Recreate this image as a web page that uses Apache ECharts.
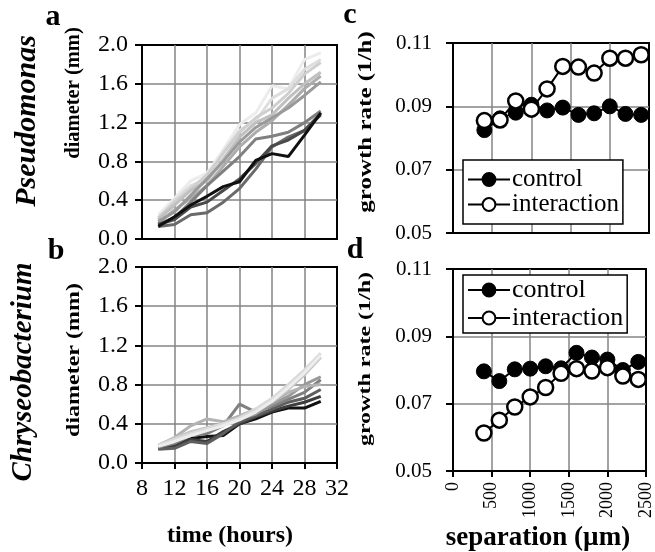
<!DOCTYPE html>
<html><head><meta charset="utf-8">
<script src="https://cdn.jsdelivr.net/npm/echarts@6/dist/echarts.min.js"></script>
<style>html,body{margin:0;padding:0;background:#fff}#c{width:655px;height:552px}</style>
</head><body><div id="c"></div>
<script>
// ---------- data ----------
const hours = [10, 12, 14, 16, 18, 20, 22, 24, 26, 28, 30];
const pseudomonasDiameter = [
  [0.25, 0.42, 0.60, 0.68, 0.92, 1.18, 1.30, 1.58, 1.55, 1.85, 1.92],
  [0.20, 0.40, 0.55, 0.62, 0.90, 1.12, 1.22, 1.45, 1.55, 1.75, 1.85],
  [0.22, 0.38, 0.52, 0.66, 0.88, 1.10, 1.25, 1.35, 1.50, 1.70, 1.82],
  [0.20, 0.35, 0.50, 0.60, 0.82, 1.05, 1.20, 1.28, 1.45, 1.60, 1.72],
  [0.16, 0.30, 0.42, 0.55, 0.75, 0.95, 1.10, 1.22, 1.38, 1.55, 1.68],
  [0.18, 0.28, 0.45, 0.62, 0.80, 1.00, 1.15, 1.25, 1.35, 1.48, 1.62],
  [0.15, 0.22, 0.38, 0.55, 0.70, 0.85, 1.03, 1.06, 1.10, 1.20, 1.32],
  [0.13, 0.15, 0.25, 0.27, 0.38, 0.52, 0.72, 0.95, 1.05, 1.12, 1.30],
  [0.15, 0.20, 0.33, 0.38, 0.50, 0.62, 0.78, 0.96, 1.02, 1.12, 1.28],
  [0.13, 0.23, 0.35, 0.44, 0.54, 0.59, 0.81, 0.88, 0.85, 1.07, 1.30]
];
const chryseobacteriumDiameter = [
  [0.15, 0.18, 0.25, 0.27, 0.28, 0.40, 0.45, 0.52, 0.56, 0.56, 0.63],
  [0.15, 0.17, 0.24, 0.22, 0.32, 0.40, 0.47, 0.53, 0.58, 0.62, 0.68],
  [0.14, 0.15, 0.22, 0.20, 0.30, 0.42, 0.48, 0.55, 0.62, 0.66, 0.75],
  [0.16, 0.20, 0.28, 0.30, 0.38, 0.60, 0.52, 0.58, 0.65, 0.72, 0.85],
  [0.17, 0.22, 0.30, 0.35, 0.40, 0.45, 0.50, 0.60, 0.68, 0.80, 0.88],
  [0.18, 0.26, 0.38, 0.45, 0.42, 0.48, 0.55, 0.62, 0.72, 0.78, 0.80],
  [0.18, 0.25, 0.32, 0.36, 0.40, 0.45, 0.53, 0.63, 0.75, 0.90, 1.08],
  [0.18, 0.24, 0.30, 0.35, 0.40, 0.46, 0.55, 0.66, 0.80, 0.95, 1.12],
  [0.17, 0.22, 0.28, 0.33, 0.38, 0.44, 0.52, 0.63, 0.77, 0.92, 1.10]
];
const separation = [400, 600, 800, 1000, 1200, 1400, 1600, 1800, 2000, 2200, 2400];
const pseudoControl     = [0.0825, 0.0862, 0.0880, 0.0905, 0.0887, 0.0896, 0.0873, 0.0878, 0.0900, 0.0876, 0.0873];
const pseudoInteraction = [0.0855, 0.0857, 0.0917, 0.0891, 0.0955, 0.1026, 0.1024, 0.1005, 0.1052, 0.1052, 0.1063];
const chryseoControl     = [0.0796, 0.0767, 0.0802, 0.0804, 0.0811, 0.0805, 0.0851, 0.0837, 0.0831, 0.0800, 0.0824];
const chryseoInteraction = [0.0613, 0.0651, 0.0690, 0.0720, 0.0748, 0.0790, 0.0804, 0.0797, 0.0807, 0.0782, 0.0772];
const seriesNames = ['control', 'interaction'];

// ---------- styles ----------
const pseudoGrays = ['#ececec', '#dedede', '#cfcfcf', '#c0c0c0', '#adadad', '#9a9a9a', '#808080', '#6a6a6a', '#4a4a4a', '#111111'];
const chryseoGrays = ['#111111', '#3c3c3c', '#5e5e5e', '#808080', '#999999', '#b3b3b3', '#c6c6c6', '#dadada', '#ededed'];
const FONT = 'Liberation Serif';
const GRID_GRAY = '#858585';

const chart = echarts.init(document.getElementById('c'), null, {renderer: 'canvas'});

function xAxisTime(gridIndex, showLabels) {
  return {
    type: 'value', gridIndex, min: 8, max: 32, interval: 4,
    axisLine: {show: true, onZero: false, lineStyle: {color: '#000', width: 2}},
    axisTick: {show: showLabels, length: 6, lineStyle: {color: '#000', width: 2}},
    axisLabel: {show: showLabels, fontFamily: FONT, fontSize: 24, color: '#000', margin: 14, formatter: v => String(v)},
    splitLine: {show: true, showMinLine: false, showMaxLine: false, lineStyle: {color: GRID_GRAY, width: 1.5}}
  };
}
function yAxisDiam(gridIndex) {
  return {
    type: 'value', gridIndex, min: 0, max: 2, interval: 0.4,
    axisLine: {show: true, onZero: false, lineStyle: {color: '#000', width: 2}},
    axisTick: {show: true, length: 7, lineStyle: {color: '#000', width: 2}},
    axisLabel: {fontFamily: FONT, fontSize: 24, color: '#000', margin: 14, formatter: v => v.toFixed(1)},
    splitLine: {show: true, showMinLine: false, showMaxLine: false, lineStyle: {color: GRID_GRAY, width: 1.5}}
  };
}
function xAxisSep(gridIndex, showLabels) {
  return {
    type: 'value', gridIndex, min: 0, max: 2500, interval: 500,
    axisLine: {show: true, onZero: false, lineStyle: {color: '#000', width: 2}},
    axisTick: {show: showLabels, length: 6, lineStyle: {color: '#000', width: 2}},
    axisLabel: {show: showLabels, rotate: 90, fontFamily: FONT, fontSize: 18, color: '#000', margin: 11, formatter: v => String(v)},
    splitLine: {show: true, showMinLine: false, showMaxLine: false, lineStyle: {color: GRID_GRAY, width: 1.5}}
  };
}
function yAxisRate(gridIndex) {
  return {
    type: 'value', gridIndex, min: 0.05, max: 0.11, interval: 0.02,
    axisLine: {show: true, onZero: false, lineStyle: {color: '#000', width: 2}},
    axisTick: {show: true, length: 7, lineStyle: {color: '#000', width: 2}},
    axisLabel: {fontFamily: FONT, fontSize: 21, color: '#000', margin: 21, formatter: v => v.toFixed(2)},
    splitLine: {show: true, showMinLine: false, showMaxLine: false, lineStyle: {color: GRID_GRAY, width: 1.5}}
  };
}

const series = [];
pseudomonasDiameter.forEach((arr, k) => {
  series.push({
    name: 'p' + k, type: 'line', xAxisIndex: 0, yAxisIndex: 0, symbol: 'none', silent: true,
    data: hours.map((h, i) => [h, arr[i]]),
    lineStyle: {color: pseudoGrays[k], width: 3}
  });
});
chryseobacteriumDiameter.forEach((arr, k) => {
  series.push({
    name: 'c' + k, type: 'line', xAxisIndex: 1, yAxisIndex: 1, symbol: 'none', silent: true,
    data: hours.map((h, i) => [h, arr[i]]),
    lineStyle: {color: chryseoGrays[k], width: 3}
  });
});
function rateSeries(name, vals, idx, filled) {
  return {
    name, type: 'line', xAxisIndex: idx, yAxisIndex: idx,
    data: separation.map((s, i) => [s, vals[i]]),
    symbol: 'circle', symbolSize: 15,
    lineStyle: {color: '#000', width: 2},
    itemStyle: filled ? {color: '#000', borderColor: '#000', borderWidth: 1}
                      : {color: '#fff', borderColor: '#000', borderWidth: 2.5}
  };
}
series.push(rateSeries(seriesNames[0], pseudoControl, 2, true));
series.push(rateSeries(seriesNames[1], pseudoInteraction, 2, false));
series.push(rateSeries(seriesNames[0], chryseoControl, 3, true));
series.push(rateSeries(seriesNames[1], chryseoInteraction, 3, false));

function legend(left, top, lineHeight, padV, fontSize) {
  return {
    data: seriesNames, orient: 'vertical', left, top,
    itemWidth: 42, itemHeight: 16, itemGap: 0,
    padding: [padV, 4, padV, 4],
    borderColor: '#000', borderWidth: 1.5, backgroundColor: '#fff',
    selectedMode: false,
    textStyle: {fontFamily: FONT, fontSize, color: '#000', lineHeight, padding: [0, 0, 0, -3]}
  };
}

function txt(x, y, text, size, opts = {}) {
  return {
    type: 'text', x, y, rotation: opts.rotation || 0,
    scaleX: opts.scaleX || 1, scaleY: opts.scaleY || 1,
    style: {
      text, fill: '#000',
      font: (opts.italic ? 'italic ' : '') + 'bold ' + size + 'px "' + FONT + '"',
      align: 'center', verticalAlign: 'middle'
    }
  };
}

chart.setOption({
  backgroundColor: '#fff',
  animation: false,
  grid: [
    {left: 142, top: 45, width: 195, height: 194, show: true, borderColor: '#000', borderWidth: 2, backgroundColor: 'transparent'},
    {left: 142, top: 267, width: 195, height: 196, show: true, borderColor: '#000', borderWidth: 2, backgroundColor: 'transparent'},
    {left: 453, top: 43, width: 196, height: 190, show: true, borderColor: '#000', borderWidth: 2, backgroundColor: 'transparent'},
    {left: 453, top: 269, width: 196, height: 202, show: true, borderColor: '#000', borderWidth: 2, backgroundColor: 'transparent'}
  ],
  xAxis: [xAxisTime(0, false), xAxisTime(1, true), xAxisSep(2, false), xAxisSep(3, true)],
  yAxis: [yAxisDiam(0), yAxisDiam(1), yAxisRate(2), yAxisRate(3)],
  legend: [legend(463, 160, 24, 7, 25), legend(463, 275, 28, 1, 26)],
  series,
  graphic: [
    txt(53, 17, 'a', 30),
    txt(56, 251, 'b', 30),
    txt(350, 15, 'c', 30),
    txt(355, 250, 'd', 30),
    txt(27, 121, 'Pseudomonas', 30, {italic: true, rotation: Math.PI / 2}),
    txt(24, 372, 'Chryseobacterium', 29, {italic: true, rotation: Math.PI / 2}),
    txt(74, 93, 'diameter (mm)', 20.5, {rotation: Math.PI / 2}),
    txt(74, 360, 'diameter (mm)', 24, {rotation: Math.PI / 2, scaleY: 0.8}),
    txt(366, 122, 'growth rate (1/h)', 25, {rotation: Math.PI / 2, scaleY: 0.72}),
    txt(366, 359, 'growth rate (1/h)', 24, {rotation: Math.PI / 2, scaleY: 0.72}),
    txt(230, 536, 'time (hours)', 24),
    txt(538, 538, 'separation (µm)', 27)
  ]
});
</script></body></html>
